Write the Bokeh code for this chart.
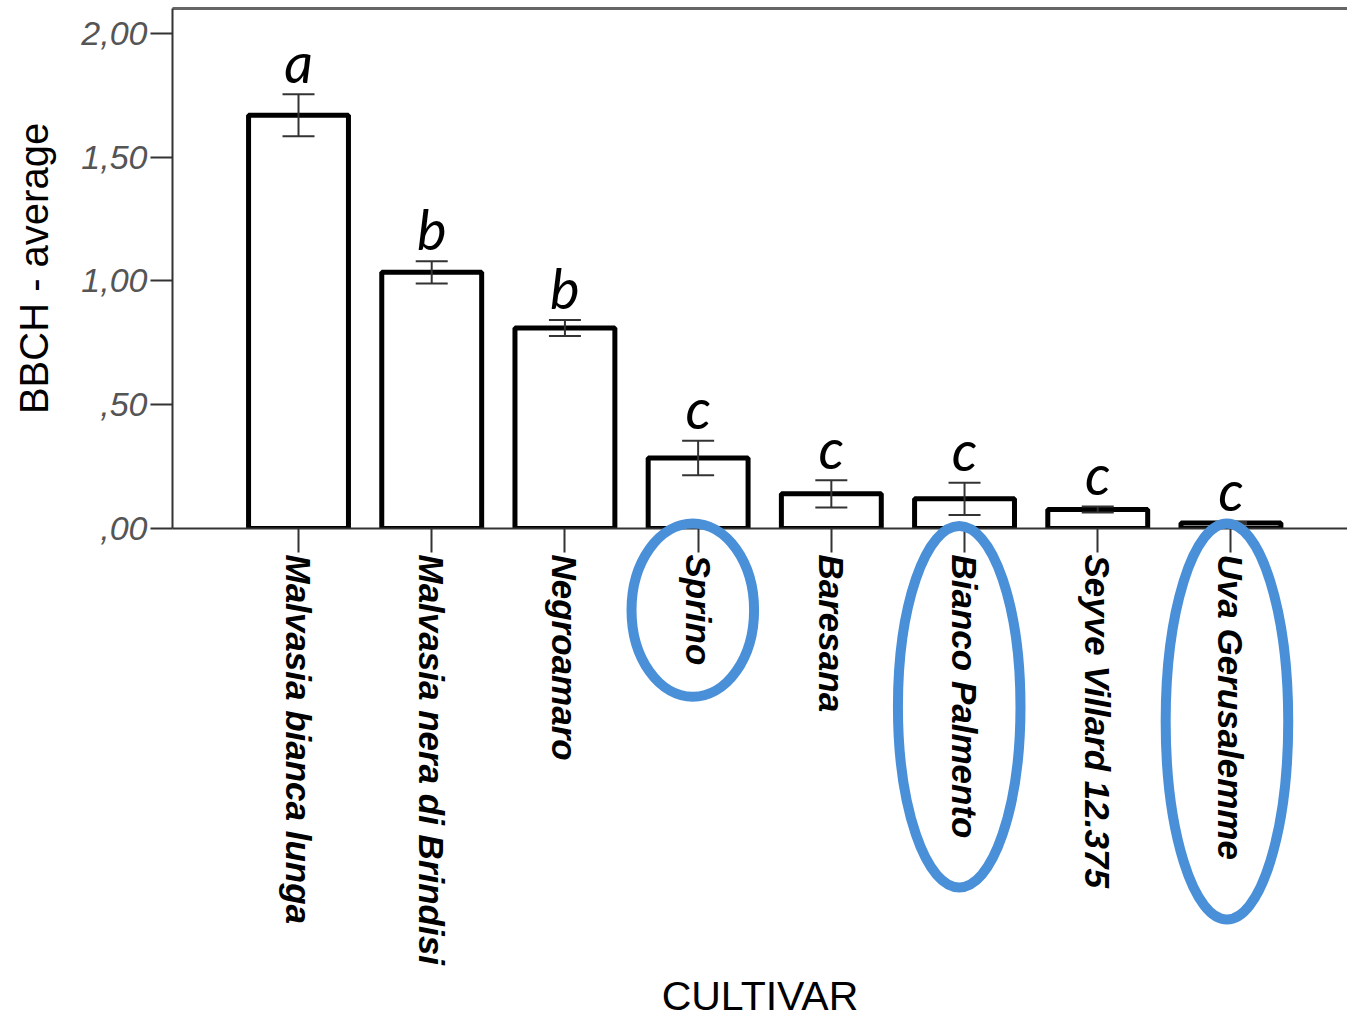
import math
from bokeh.plotting import figure
from bokeh.models import (Range1d, FixedTicker, LinearAxis, Whisker, TeeHead,
                          ColumnDataSource)
from bokeh.core.properties import value
from bokeh.embed import file_html
from bokeh.resources import INLINE

# ---- data ----
categories = ["Malvasia bianca lunga", "Malvasia nera di Brindisi", "Negroamaro",
              "Sprino", "Baresana", "Bianco Palmento", "Seyve Villard 12.375",
              "Uva Gerusalemme"]
means = [1.67, 1.035, 0.81, 0.285, 0.14, 0.12, 0.077, 0.022]
errors = [0.085, 0.045, 0.032, 0.07, 0.055, 0.065, 0.012, 0.004]
letters = ["a", "b", "b", "c", "c", "c", "c", "c"]
y_ticks = [0.0, 0.5, 1.0, 1.5, 2.0]
y_tick_labels = [",00", ",50", "1,00", "1,50", "2,00"]
highlighted = ["Sprino", "Bianco Palmento", "Uva Gerusalemme"]

# ---- styling of the hand-drawn highlight ellipses (data units) ----
ellipse_style = {
    "Sprino": dict(dx=-0.04, cy=-0.33, w=0.92, h=0.70),
    "Bianco Palmento": dict(dx=-0.04, cy=-0.72, w=0.92, h=1.46),
    "Uva Gerusalemme": dict(dx=-0.03, cy=-0.78, w=0.92, h=1.60),
}

xpos = list(range(len(categories)))
upper = [m + e for m, e in zip(means, errors)]
lower = [m - e for m, e in zip(means, errors)]
src = ColumnDataSource(dict(x=xpos, top=means, upper=upper, lower=lower,
                            letter=letters))

W, H = 1347, 1021
p = figure(width=W, height=H, output_backend="svg", toolbar_location=None,
           x_range=Range1d(-0.946, 7.875), y_range=Range1d(0, 2.101),
           min_border_left=172, min_border_right=0, min_border_top=8,
           min_border_bottom=493)
p.outline_line_color = None
p.grid.visible = False
p.background_fill_color = "white"

p.vbar(x="x", top="top", bottom=0, width=0.75, source=src,
       fill_color="white", line_color="black", line_width=5)

wh = Whisker(base="x", upper="upper", lower="lower", source=src,
             line_color="#333333", line_width=2, level="annotation",
             upper_head=TeeHead(size=32, line_color="#333333", line_width=2),
             lower_head=TeeHead(size=32, line_color="#333333", line_width=2))
p.add_layout(wh)

p.text(x="x", y="upper", text="letter", source=src, text_align="center",
       text_baseline="alphabetic", y_offset=-33,
       text_font=value("Lato"), text_font_style="italic",
       text_font_size="56px", text_color="black")

# highlight ellipses
ell = dict(x=[], y=[], w=[], h=[])
for name in highlighted:
    s = ellipse_style[name]
    ell["x"].append(categories.index(name) + s["dx"])
    ell["y"].append(s["cy"])
    ell["w"].append(s["w"])
    ell["h"].append(s["h"])
p.ellipse(x="x", y="y", width="w", height="h", source=ColumnDataSource(ell),
          fill_color=None, line_color="#4a90d9", line_width=10, level="overlay")

# y axis
ya = p.yaxis[0]
ya.ticker = FixedTicker(ticks=y_ticks)
ya.major_label_overrides = {t_: l for t_, l in zip(y_ticks, y_tick_labels)}
ya.minor_tick_line_color = None
ya.major_tick_out = 22
ya.major_tick_in = 0
ya.major_tick_line_width = 2
ya.major_tick_line_color = "#333333"
ya.axis_line_width = 2
ya.axis_line_color = "#333333"
ya.major_label_standoff = 3
ya.major_label_text_font = "Liberation Sans"
ya.major_label_text_font_style = "italic"
ya.major_label_text_font_size = "34px"
ya.major_label_text_color = "#555555"
ya.axis_label = "BBCH - average"
ya.axis_label_text_font = "Liberation Sans"
ya.axis_label_text_font_style = "normal"
ya.axis_label_text_font_size = "40px"
ya.axis_label_text_color = "black"
ya.axis_label_standoff = 22

# x axis
xa = p.xaxis[0]
xa.ticker = FixedTicker(ticks=xpos)
xa.major_label_overrides = {i: c for i, c in zip(xpos, categories)}
xa.major_label_orientation = -math.pi / 2
xa.minor_tick_line_color = None
xa.major_tick_out = 24
xa.major_tick_in = 0
xa.major_tick_line_width = 2
xa.major_tick_line_color = "#333333"
xa.axis_line_width = 2
xa.axis_line_color = "#333333"
xa.major_label_standoff = 2
xa.major_label_text_font = "Liberation Sans"
xa.major_label_text_font_style = "bold italic"
xa.major_label_text_font_size = "35px"
xa.major_label_text_color = "black"
xa.axis_label = "CULTIVAR"
xa.axis_label_text_font = "Liberation Sans"
xa.axis_label_text_font_style = "normal"
xa.axis_label_text_font_size = "41px"
xa.axis_label_text_color = "black"
xa.axis_label_standoff = 5

# top frame line
top_axis = LinearAxis(ticker=FixedTicker(ticks=[]), axis_line_color="#666666",
                      axis_line_width=3, major_tick_line_color=None,
                      minor_tick_line_color=None, major_label_text_font_size="0px")
p.add_layout(top_axis, "above")

open("out.html", "w").write(file_html(p, INLINE))
